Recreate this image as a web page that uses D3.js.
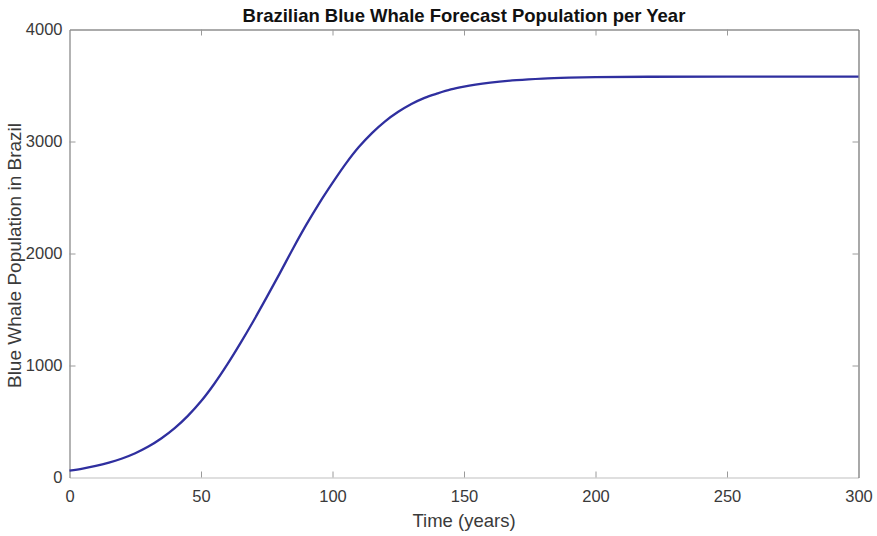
<!DOCTYPE html>
<html>
<head>
<meta charset="utf-8">
<script src="https://cdn.jsdelivr.net/npm/d3@7"></script>
<style>
  html, body { margin: 0; padding: 0; background: #fff; }
  svg { display: block; font-family: "Liberation Sans", Arial, Helvetica, sans-serif; }
</style>
</head>
<body>
<svg id="chart" width="877" height="536"></svg>
<script>
// Forecast population of blue whales off Brazil, by year
const years = [0, 5, 10, 15, 20, 25, 30, 35, 40, 45, 50, 55, 60, 65, 70, 75, 80, 85, 90, 95,
  100, 105, 110, 115, 120, 125, 130, 135, 140, 145, 150, 160, 170, 180, 190, 200, 220, 250, 300];
const population = [62, 80, 103, 133, 170, 217, 276, 350, 440, 550, 680, 835, 1010, 1200, 1400, 1610, 1825, 2045, 2255, 2450,
  2630, 2800, 2950, 3075, 3180, 3265, 3335, 3390, 3430, 3465, 3490, 3525, 3548, 3562, 3570, 3575, 3578, 3580, 3580];

const xTicks = [0, 50, 100, 150, 200, 250, 300];
const yTicks = [0, 1000, 2000, 3000, 4000];

const titleText = "Brazilian Blue Whale Forecast Population per Year";
const xLabel = "Time (years)";
const yLabel = "Blue Whale Population in Brazil";

const margin = { left: 69.5, top: 29.5, right: 877 - 858.5, bottom: 536 - 477.5 };
const width = 877, height = 536;
const plotW = width - margin.left - margin.right;
const plotH = height - margin.top - margin.bottom;

const svg = d3.select("#chart");

const x = d3.scaleLinear().domain([0, 300]).range([margin.left, margin.left + plotW]);
const y = d3.scaleLinear().domain([0, 4000]).range([margin.top + plotH, margin.top]);

// tick marks point inward on all four sides
const tickColor = "#9a9a9a";
const labelColor = "#3a3a3a";
const fontSize = 16.5;

const bottomAxis = d3.axisBottom(x).tickValues(xTicks).tickSizeInner(-6).tickSizeOuter(0).tickPadding(13).tickFormat(d3.format("d"));
const leftAxis = d3.axisLeft(y).tickValues(yTicks).tickSizeInner(-6).tickSizeOuter(0).tickPadding(7).tickFormat(d3.format("d"));
const topAxis = d3.axisTop(x).tickValues(xTicks).tickSizeInner(-6).tickSizeOuter(0).tickFormat("");
const rightAxis = d3.axisRight(y).tickValues(yTicks).tickSizeInner(-6).tickSizeOuter(0).tickFormat("");

function styleAxis(g, lineColor) {
  g.select(".domain").attr("stroke", lineColor).attr("stroke-width", 1.3);
  g.selectAll(".tick line").attr("stroke", tickColor).attr("stroke-width", 1);
  g.selectAll(".tick text").attr("fill", labelColor).attr("font-size", fontSize);
}

svg.append("g").attr("transform", `translate(0,${margin.top + plotH})`).call(bottomAxis).call(g => styleAxis(g, "#d4d4d4"));
svg.append("g").attr("transform", `translate(${margin.left},0)`).call(leftAxis).call(g => styleAxis(g, "#8a8a8a"));
svg.append("g").attr("transform", `translate(0,${margin.top})`).call(topAxis).call(g => styleAxis(g, "#8f8f8f"));
svg.append("g").attr("transform", `translate(${margin.left + plotW},0)`).call(rightAxis).call(g => styleAxis(g, "#7a7a7a"));

// tick lines at the frame corners would just overlap the frame itself
svg.selectAll(".tick line").filter(function (d) {
  return d === 0 || d === 300 || d === 4000;
}).attr("stroke-opacity", 0);

// population curve
const line = d3.line()
  .x((d, i) => x(years[i]))
  .y(d => y(d))
  .curve(d3.curveMonotoneX);

svg.append("path")
  .datum(population)
  .attr("d", line)
  .attr("fill", "none")
  .attr("stroke", "#2f2f9f")
  .attr("stroke-width", 2.3)
  .attr("stroke-linejoin", "round");

// title and axis labels
svg.append("text")
  .attr("x", margin.left + plotW / 2)
  .attr("y", 22)
  .attr("text-anchor", "middle")
  .attr("font-weight", "bold")
  .attr("font-size", 18.5)
  .attr("fill", "#111")
  .text(titleText);

svg.append("text")
  .attr("x", margin.left + plotW / 2)
  .attr("y", 527)
  .attr("text-anchor", "middle")
  .attr("font-size", 18.5)
  .attr("fill", labelColor)
  .text(xLabel);

svg.append("text")
  .attr("transform", `translate(21,${margin.top + plotH / 2 + 2}) rotate(-90)`)
  .attr("text-anchor", "middle")
  .attr("font-size", 19)
  .attr("fill", labelColor)
  .text(yLabel);
</script>
</body>
</html>
